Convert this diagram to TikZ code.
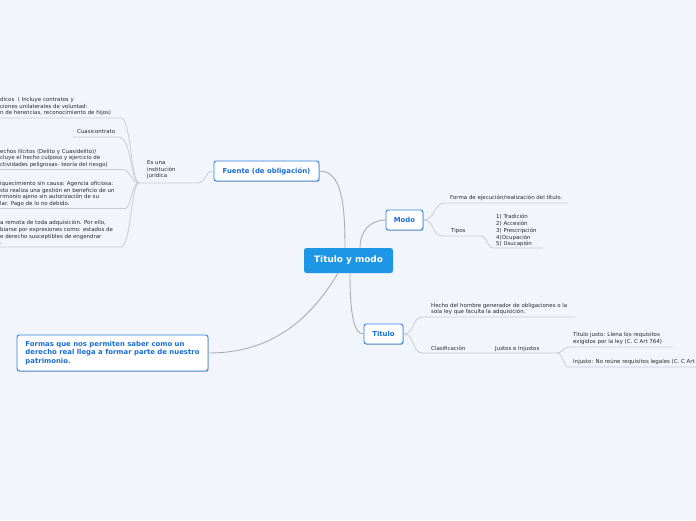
\documentclass[tikz,border=0pt]{standalone}
\usepackage{fontspec}
\setmainfont{DejaVu Sans}
\usetikzlibrary{shadows}
\definecolor{bgc}{RGB}{242,245,252}
\definecolor{cblue}{RGB}{30,150,230}
\definecolor{boxblue}{RGB}{50,130,220}
\definecolor{txtblue}{RGB}{25,110,210}
\definecolor{txtgray}{RGB}{40,40,45}
\definecolor{conngray}{RGB}{172,172,178}
\definecolor{ulgray}{RGB}{200,204,214}
\tikzset{
  mainbox/.style={draw=boxblue, line width=0.9pt, fill=white, rounded corners=2.5pt,
    font=\fontsize{6.9}{8.3}\selectfont\bfseries, text=txtblue, inner sep=0pt,
    drop shadow={shadow xshift=0.6pt, shadow yshift=-0.9pt, opacity=0.25, fill=black}},
  centerbox/.style={fill=cblue, rounded corners=2.5pt, text=white,
    font=\fontsize{8.9}{10}\selectfont\bfseries, inner sep=0pt,
    minimum width=89pt, minimum height=25pt},
  smalltxt/.style={font=\fontsize{5.45}{6.6}\selectfont, text=txtgray, inner sep=0pt,
    anchor=north west, align=left},
  conn/.style={draw=conngray, line width=0.9pt},
  uline/.style={draw=ulgray, line width=0.8pt}
}
\begin{document}
\begin{tikzpicture}[x=1pt,y=-1pt]
\useasboundingbox (0,0) rectangle (696,520);
\fill[bgc] (0,0) rectangle (696,520);
\clip (0,0) rectangle (696,520);

% main nodes
\node[centerbox] (c) at (348.5,260.5) {Titulo y modo};
\node[mainbox, minimum width=105pt, minimum height=20pt] (fu) at (266.5,171) {Fuente (de obligación)};
\node[mainbox, minimum width=37pt, minimum height=20pt] (mo) at (404.5,220) {Modo};
\node[mainbox, minimum width=39pt, minimum height=20pt] (ti) at (383.5,334) {Titulo};
\node[mainbox, minimum width=191pt, minimum height=36pt, align=left] (fo) at (112.5,353)
  {Formas que nos permiten saber como un\\derecho real llega a formar parte de nuestro\\patrimonio.};

% main connectors
\draw[conn] ([xshift=-3.5pt]c.north) .. controls +(0,-45) and +(22,0) .. (fu.east);
\draw[conn] ([xshift=11.5pt]c.north) .. controls +(0,-18) and +(-14,0) .. (mo.west);
\draw[conn] ([xshift=1.5pt]c.south) .. controls +(0,40) and +(-10,0) .. (ti.west);
\draw[conn] ([xshift=-10.5pt]c.south) .. controls +(-30,50) and +(60,0) .. (fo.east);

% Modo branches
\coordinate (m1a) at (445,203);
\coordinate (m1b) at (568,203);
\coordinate (m2a) at (443,236);
\coordinate (m2b) at (480,236);
\coordinate (m3a) at (494,248);
\coordinate (m3b) at (542,248);
\draw[uline] (mo.east) .. controls +(12,0) and +(-12,0) .. (m1a) -- (m1b);
\draw[uline] (mo.east) .. controls +(12,0) and +(-12,0) .. (m2a) -- (m2b)
  .. controls +(8,0) and +(-8,0) .. (m3a) -- (m3b);
\node[smalltxt] (m1) at (450,195.3) {Forma de ejecución/realización del título.};
\node[smalltxt] (m2) at (451,228.3) {Tipos};
\node[smalltxt, font=\fontsize{5.45}{6.75}\selectfont] (m3) at (496,214.3)
  {1) Tradición\\2) Accesión\\3) Prescripción\\4)Ocupación\\5) Usucapión};

% Titulo branches
\coordinate (t1a) at (423,317);
\coordinate (t1b) at (575,317);
\coordinate (t2a) at (423,353);
\coordinate (t2b) at (557,353);
\coordinate (t3a) at (569,347);
\coordinate (t3b) at (673,347);
\coordinate (t4a) at (569,367);
\coordinate (t4b) at (700,367);
\draw[uline] (ti.east) .. controls +(12,0) and +(-12,0) .. (t1a) -- (t1b);
\draw[uline] (ti.east) .. controls +(12,0) and +(-12,0) .. (t2a) -- (t2b)
  .. controls +(6,0) and +(-6,0) .. (t3a) -- (t3b);
\draw[uline] (t2b) .. controls +(6,0) and +(-6,0) .. (t4a) -- (t4b);
\node[smalltxt] (t1) at (431,302.8) {Hecho del hombre generador de obligaciones o la\\sola ley que faculta la adquisición.};
\node[smalltxt] (t2) at (431,346.3) {Clasificación};
\node[smalltxt] (t2x) at (495,346.3) {Justos e Injustos};
\node[smalltxt] (t3) at (573,332.3) {Titulo justo: Llena los requisitos\\exigidos por la ley (C. C Art 764)};
\node[smalltxt] (t4) at (573,359.3) {Injusto: No reúne requisitos legales (C. C Art};

% Fuente branches
\coordinate (e1) at (197,183);
\coordinate (e0) at (139,183);
\draw[uline] (fu.west) .. controls +(-10,0) and +(10,0) .. (e1) -- (e0);
\node[smalltxt] (es) at (147,160.3) {Es una\\institución\\jurídica};

\coordinate (l1a) at (121,118);   \coordinate (l1b) at (0,118);
\coordinate (l2a) at (119,137);   \coordinate (l2b) at (73,137);
\coordinate (l3a) at (122,169.5); \coordinate (l3b) at (0,169.5);
\coordinate (l4a) at (125,208.5); \coordinate (l4b) at (0,208.5);
\coordinate (l5a) at (121,247);   \coordinate (l5b) at (0,247);
\draw[uline] (e0) .. controls (131,183) and (131,118) .. (l1a) -- (l1b);
\draw[uline] (e0) .. controls (131,183) and (131,137) .. (l2a) -- (l2b);
\draw[uline] (e0) .. controls (131,183) and (131,169.5) .. (l3a) -- (l3b);
\draw[uline] (e0) .. controls (131,183) and (131,208.5) .. (l4a) -- (l4b);
\draw[uline] (e0) .. controls (131,183) and (131,247) .. (l5a) -- (l5b);

\node[smalltxt] (n1) at (0,97.3) {dicos \ ( Incluye contratos y\\ciones unilaterales de voluntad:\\n de herencias, reconocimiento de hijos)};
\node[smalltxt] (n2) at (77,129.3) {Cuasicontrato};
\node[smalltxt] (n3) at (0,148.8) {echos ilícitos (Delito y Cuasidelito)/\\cluye el hecho culposo y ejercicio de\\ctividades peligrosas- teoría del riesgo)};
\node[smalltxt] (n4) at (0,181.3) {iquecimiento sin causa: Agencia oficiosa:\\sto realiza una gestión en beneficio de un\\rimonio ajeno sin autorización de su\\lar. Pago de lo no debido.};
\node[smalltxt] (n5) at (0,220.3) {a remota de toda adquisición. Por ello,\\biarse por expresiones como: estados de\\e derecho susceptibles de engendrar\\.};
\end{tikzpicture}
\end{document}
